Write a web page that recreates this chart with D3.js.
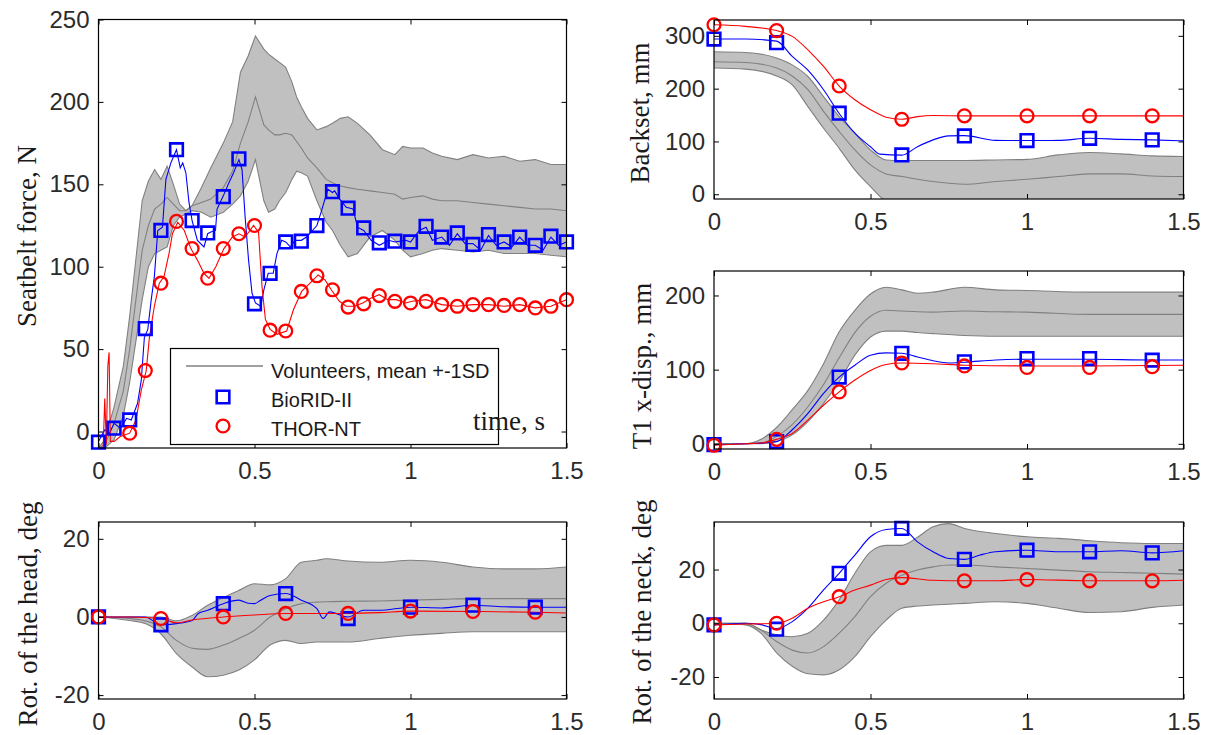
<!DOCTYPE html>
<html>
<head>
<meta charset="utf-8">
<script src="https://cdn.jsdelivr.net/npm/d3@7"></script>
<style>
  body { margin: 0; background: #fff; }
  svg { display: block; }
  .tick text { font-family: "Liberation Sans", Arial, sans-serif; font-size: 24px; fill: #2b2b2b; }
  .tick line { stroke: #000; }
  .ylab, .tlab { font-family: "Liberation Serif", "Times New Roman", serif; font-size: 27px; fill: #1a1a1a; }
  .leg { font-family: "Liberation Sans", Arial, sans-serif; font-size: 20px; fill: #1a1a1a; }
</style>
</head>
<body>
<div id="container"></div>
<script>
// ---------- shared tick labels ----------
const xTicks = [0, 0.5, 1, 1.5];
const xTickLabels = ['0', '0.5', '1', '1.5'];
const markT = [0, 0.2, 0.4, 0.6, 0.8, 1.0, 1.2, 1.4];

// ---------- seatbelt force, N ----------
const beltTicks = [0, 50, 100, 150, 200, 250];
const beltBandT = [0, 0.02, 0.05, 0.08, 0.1, 0.12, 0.14, 0.16, 0.18, 0.2, 0.22, 0.24, 0.26, 0.28, 0.3, 0.33, 0.36, 0.4, 0.43, 0.455, 0.48, 0.503, 0.53, 0.545, 0.565, 0.58, 0.6, 0.62, 0.635, 0.65, 0.67, 0.7, 0.73, 0.75, 0.775, 0.8, 0.83, 0.87, 0.91, 0.95, 0.975, 1.0, 1.04, 1.07, 1.1, 1.15, 1.2, 1.25, 1.3, 1.35, 1.4, 1.45, 1.5];
const beltUpper = [-10, -5, 15, 40, 70, 105, 140, 152, 159, 153, 161, 150, 138, 134, 137, 148, 160, 175, 188, 218, 228, 240, 232, 229, 226, 224, 221, 212, 203, 197, 190, 183, 185, 187, 190, 191, 187, 180, 171, 168, 173, 172, 172, 169, 167, 165, 168, 166, 167, 164, 165, 162, 162];
const beltMean  = [-10, -8, 5, 25, 50, 80, 110, 125, 135, 138, 142, 138, 134, 134, 137, 139, 141, 148, 158, 175, 188, 203, 186, 183, 180, 180, 181, 180, 176, 172, 166, 160, 153, 151, 149, 148, 147, 146, 145, 144, 141, 142, 143, 141, 140, 140, 139, 138, 137, 136, 135, 135, 134];
const beltLower = [-10, -10, -5, 10, 30, 55, 80, 100, 108, 110, 112, 125, 130, 132, 134, 133, 130, 133, 138, 143, 152, 165, 140, 133, 135, 140, 145, 153, 158, 157, 155, 140, 127, 122, 113, 106, 108, 118, 122, 116, 110, 106, 108, 110, 111, 110, 109, 110, 108, 108, 108, 107, 106];

const beltBioT = [0, 0.02, 0.035, 0.05, 0.07, 0.09, 0.105, 0.125, 0.137, 0.147, 0.158, 0.169, 0.179, 0.19, 0.205, 0.216, 0.232, 0.25, 0.262, 0.27, 0.28, 0.29, 0.3, 0.317, 0.338, 0.35, 0.36, 0.375, 0.38, 0.4, 0.418, 0.433, 0.45, 0.46, 0.47, 0.481, 0.492, 0.503, 0.52, 0.53, 0.544, 0.56, 0.572, 0.587, 0.6, 0.615, 0.63, 0.65, 0.667, 0.7, 0.715, 0.735, 0.75, 0.757, 0.773, 0.794, 0.816, 0.83, 0.85, 0.874, 0.9, 0.93, 0.95, 0.985, 1.0, 1.028, 1.05, 1.07, 1.1, 1.125, 1.15, 1.175, 1.2, 1.225, 1.25, 1.275, 1.3, 1.325, 1.35, 1.375, 1.4, 1.425, 1.45, 1.475, 1.5];
const beltBio  = [-6, 1, -1, 5, 2, 8, 7, 17, 31, 57, 62, 80, 94, 122, 124, 153, 163, 171, 160, 163, 157, 139, 128, 116, 112, 120, 121, 122, 135, 143, 151, 157, 165, 159, 130, 104, 84, 78, 76, 86, 96, 96, 108, 116, 115, 112, 116, 116, 118, 125, 134, 147, 145, 146, 141, 136, 135, 124, 122, 116, 113, 116, 115, 116, 115, 122, 124, 116, 118, 113, 120, 114, 114, 110, 119, 113, 115, 112, 118, 113, 113, 110, 118, 113, 115];
const beltThorT = [0, 0.015, 0.02, 0.025, 0.03, 0.034, 0.038, 0.05, 0.07, 0.1, 0.12, 0.137, 0.153, 0.163, 0.179, 0.195, 0.21, 0.226, 0.237, 0.254, 0.275, 0.296, 0.317, 0.338, 0.354, 0.376, 0.402, 0.429, 0.45, 0.47, 0.497, 0.513, 0.524, 0.535, 0.55, 0.572, 0.603, 0.625, 0.651, 0.678, 0.704, 0.726, 0.746, 0.772, 0.794, 0.82, 0.847, 0.874, 0.9, 0.927, 0.954, 0.985, 1.005, 1.05, 1.1, 1.15, 1.2, 1.25, 1.3, 1.35, 1.4, 1.45, 1.5];
const beltThor  = [-11, -10, 20, -8, 40, 48, -6, -6, -3, -1, 7, 25, 37, 57, 76, 90, 94, 108, 120, 127, 122, 111, 104, 96, 93, 100, 111, 118, 120, 118, 125, 121, 88, 68, 62, 59, 61, 74, 85, 90, 95, 92, 86, 79, 76, 76, 78, 81, 83, 80, 80, 78, 79, 80, 77, 76, 77, 77, 76, 77, 75, 76, 80];

const beltBioMarkT = [0, 0.05, 0.1, 0.15, 0.2, 0.25, 0.3, 0.35, 0.4, 0.45, 0.5, 0.55, 0.6, 0.65, 0.7, 0.75, 0.8, 0.85, 0.9, 0.95, 1.0, 1.05, 1.1, 1.15, 1.2, 1.25, 1.3, 1.35, 1.4, 1.45, 1.5];
const beltBioMark  = [-6.5, 2, 7, 62.5, 122, 171, 128, 120.5, 142.5, 165.5, 77.5, 96, 115, 115.5, 125, 145.5, 135.5, 123.5, 114.5, 115.5, 115, 124.5, 118, 120.5, 113.5, 119.5, 115, 118, 113, 118.5, 115];
const beltThorMarkT = [0.1, 0.15, 0.2, 0.25, 0.3, 0.35, 0.4, 0.45, 0.5, 0.55, 0.6, 0.65, 0.7, 0.75, 0.8, 0.85, 0.9, 0.95, 1.0, 1.05, 1.1, 1.15, 1.2, 1.25, 1.3, 1.35, 1.4, 1.45, 1.5];
const beltThorMark  = [-1, 37, 90, 127.5, 111, 93, 111, 120, 125, 61.5, 61, 85, 94.5, 86, 75.5, 77.5, 82.5, 79, 78, 79, 77, 76, 77, 77, 76.5, 77, 75, 76, 80];

// ---------- backset, mm ----------
const backTicks = [0, 100, 200, 300];
const backBandT = [0, 0.1, 0.2, 0.25, 0.3, 0.35, 0.4, 0.45, 0.5, 0.55, 0.6, 0.7, 0.8, 0.9, 1.0, 1.1, 1.2, 1.3, 1.4, 1.5];
const backUpper = [270, 268.5, 258, 245, 223, 185, 147, 115.6, 84, 65, 64, 64, 64, 65, 66, 74.5, 79, 76.4, 72.6, 71.4];
const backMean  = [251, 249.5, 239, 224, 198, 157, 119, 84, 55.6, 38.5, 33.5, 24, 19, 24, 28.4, 33.5, 38.5, 38.5, 34.7, 33.5];
const backLower = [239, 237, 224, 207, 166, 125, 87, 46, 14.5, -12, -15, -15, -15, -15, -15, -15, -15, -15, -15, -15];
const backBioT = [0, 0.1, 0.2, 0.25, 0.3, 0.35, 0.4, 0.45, 0.5, 0.53, 0.6, 0.65, 0.7, 0.75, 0.8, 0.9, 1.0, 1.1, 1.2, 1.3, 1.4, 1.5];
const backBio  = [294, 294, 290, 261, 235, 198, 153, 115.6, 90, 76, 74, 90, 103, 110.5, 111, 102, 101.7, 102, 106, 104, 103, 101];
const backThorT = [0, 0.1, 0.2, 0.25, 0.3, 0.35, 0.4, 0.45, 0.5, 0.55, 0.6, 0.65, 0.7, 0.8, 1.0, 1.2, 1.4, 1.5];
const backThor  = [321, 318, 310, 299, 273.5, 242, 205, 179, 160, 146, 142, 147, 149, 148.5, 148.5, 148.5, 148.5, 148.5];
const backBioMark  = [294, 287, 153.5, 74.5, 110.5, 101.7, 106, 103];
const backThorMark = [321, 310, 205, 142, 148.5, 148.5, 148.5, 148.5];

// ---------- T1 x-disp., mm ----------
const t1Ticks = [0, 100, 200];
const t1BandT = [0, 0.1, 0.15, 0.2, 0.25, 0.3, 0.35, 0.4, 0.45, 0.5, 0.55, 0.6, 0.65, 0.7, 0.8, 0.9, 1.0, 1.2, 1.5];
const t1Upper = [0, 0, 6, 22, 46, 72, 108, 151, 180, 202, 211, 207.6, 203, 204.5, 211, 207.6, 206.7, 204.5, 204.5];
const t1Mean  = [0, 0, 1, 10, 26, 50, 80, 116, 150, 172, 180, 179, 178, 177.6, 179, 178, 177.6, 174.5, 174.5];
const t1Lower = [0, 0, 0, 3, 12, 30, 54.6, 83.7, 119.5, 144, 152, 152, 150, 148.5, 146, 145, 145, 145, 145];
const t1BioT = [0, 0.1, 0.2, 0.25, 0.3, 0.35, 0.4, 0.45, 0.5, 0.55, 0.6, 0.65, 0.7, 0.75, 0.8, 0.9, 1.0, 1.2, 1.4, 1.5];
const t1Bio  = [-1, 0, 3, 19, 41, 68, 90, 106, 119.5, 122.6, 122, 117, 112, 109, 110, 113, 114, 114, 113, 113];
const t1ThorT = [0, 0.1, 0.15, 0.2, 0.25, 0.3, 0.35, 0.4, 0.45, 0.5, 0.55, 0.6, 0.7, 0.8, 1.0, 1.2, 1.5];
const t1Thor  = [-2, 0, 1, 6, 14, 32, 52, 70, 86, 99, 107, 109, 108, 106, 105, 105, 106];
const t1BioMark  = [-1, 3, 90, 122, 110.5, 115, 115, 112.7];
const t1ThorMark = [-2, 6, 70, 109, 105, 103, 103, 104];

// ---------- rotation of the head, deg ----------
const headTicks = [-20, 0, 20];
const headBandT = [0, 0.1, 0.15, 0.2, 0.25, 0.3, 0.35, 0.4, 0.45, 0.5, 0.55, 0.6, 0.65, 0.7, 0.73, 0.8, 0.9, 1.0, 1.1, 1.2, 1.3, 1.4, 1.5];
const headUpper = [0, 0, 0, 0, -1, 0.4, 3, 5, 6.8, 8.5, 8.2, 9.8, 14, 14.5, 14.9, 14.3, 14, 14.5, 14, 12.8, 12.3, 12.3, 12.8];
const headMean  = [0, -0.4, -1, -2.5, -6, -8, -8.3, -7.2, -5.5, -3.4, 0, 2.1, 3.4, 3.8, 3.9, 4, 4.1, 4.3, 4.5, 4.7, 4.7, 4.7, 4.7];
const headLower = [0, -0.9, -1.7, -4.3, -9.4, -12.8, -15.3, -14.9, -13.6, -11, -7.2, -6, -6.8, -6.4, -6.4, -6.4, -5.5, -4.7, -4.2, -3.8, -3.8, -3.8, -3.8];
const headBioT = [0, 0.1, 0.15, 0.2, 0.25, 0.3, 0.32, 0.35, 0.4, 0.45, 0.48, 0.5, 0.52, 0.55, 0.6, 0.65, 0.7, 0.72, 0.74, 0.8, 0.85, 0.9, 1.0, 1.1, 1.2, 1.3, 1.4, 1.5];
const headBio  = [0, 0, 0, -2, -1.7, -0.9, 0.9, 1.7, 3.4, 4.3, 3.5, 3.4, 4.3, 5.5, 6, 4.3, 2.1, -0.4, 1.3, 0, 1.7, 1.7, 2.5, 2.3, 3, 2.6, 2.5, 2.5];
const headThorT = [0, 0.1, 0.2, 0.25, 0.3, 0.4, 0.5, 0.6, 0.7, 0.8, 0.9, 1.0, 1.2, 1.4, 1.5];
const headThor  = [0, 0, -0.4, -1.5, -0.8, 0, 0.5, 0.9, 0.9, 0.9, 1.1, 1.5, 1.4, 1.2, 1.0];
const headBioMark  = [0, -2, 3.4, 6, -0.4, 2.5, 3, 2.5];
const headThorMark = [0, -0.4, 0, 0.9, 0.9, 1.5, 1.4, 1.2];

// ---------- rotation of the neck, deg ----------
const neckTicks = [-20, 0, 20];
const neckBandT = [0, 0.1, 0.15, 0.2, 0.25, 0.3, 0.35, 0.4, 0.45, 0.5, 0.55, 0.6, 0.65, 0.7, 0.75, 0.8, 0.9, 1.0, 1.1, 1.2, 1.3, 1.4, 1.5];
const neckUpper = [0, 0, -2.5, -4.3, -5, -3.7, 1.2, 8.7, 18.6, 26.6, 29, 29, 32, 35.9, 37.1, 35.3, 33.4, 32.2, 31.6, 30.7, 30, 29.7, 29.7];
const neckMean  = [0, 0, -2.5, -6.8, -10, -11.1, -8.7, -3.7, 2.5, 9.9, 14.9, 17.9, 19.8, 21, 21.7, 21.7, 21, 20.4, 19.8, 19.2, 18.9, 18.6, 18.3];
const neckLower = [0, -0.6, -3.7, -11, -16, -18.8, -19.2, -17.3, -12.4, -5, 1.2, 5.6, 6.4, 6.8, 7.1, 7.4, 8, 7.4, 5.6, 4, 4.3, 5.9, 6.8];
const neckBioT = [0, 0.1, 0.15, 0.2, 0.25, 0.3, 0.35, 0.4, 0.45, 0.5, 0.55, 0.6, 0.65, 0.7, 0.75, 0.8, 0.85, 0.9, 1.0, 1.1, 1.2, 1.3, 1.4, 1.5];
const neckBio  = [-0.6, 0, -0.5, -2, 0.6, 5.6, 12.4, 18.6, 25.4, 32.2, 34.9, 35.3, 30.3, 26.6, 24.1, 23.8, 25.4, 26.6, 27.2, 26.6, 26.6, 27, 26.2, 27];
const neckThorT = [0, 0.1, 0.2, 0.25, 0.3, 0.35, 0.4, 0.45, 0.5, 0.55, 0.6, 0.7, 0.8, 0.9, 1.0, 1.2, 1.4, 1.5];
const neckThor  = [-0.6, -0.3, 0, 1.9, 5.6, 8, 9.9, 12.4, 14.2, 16.3, 17, 16, 15.8, 15.8, 16.3, 15.8, 15.8, 16];
const neckBioMark  = [-0.6, -2.2, 18.6, 35.3, 23.8, 27.2, 26.6, 26.2];
const neckThorMark = [-0.6, 0, 9.9, 17, 15.8, 16.3, 15.8, 15.8];

const legendLabels = ['Volunteers, mean +-1SD', 'BioRID-II', 'THOR-NT'];

// ---------- drawing ----------
const w = 1209;
const h = 735;
const blue = '#0000ff';
const red = '#ff0000';
const bandFill = '#c0c0c0';
const bandEdge = '#808080';
const squareSize = 160;
const circleSize = 130;

const svg = d3.select('#container')
              .append('svg')
              .attr('width', w)
              .attr('height', h);

function drawPanel(p) {
    const xScale = d3.scaleLinear().domain([0, 1.5]).range([p.left, p.right]);
    const yScale = d3.scaleLinear().domain(p.yDomain).range([p.bottom, p.top]);
    const curve = p.smooth ? d3.curveMonotoneX : d3.curveLinear;

    svg.append('clipPath').attr('id', 'clip-' + p.id)
        .append('rect')
        .attr('x', p.left).attr('y', p.top)
        .attr('width', p.right - p.left).attr('height', p.bottom - p.top);

    const plot = svg.append('g').attr('clip-path', `url(#clip-${p.id})`);

    // volunteer band: fill plus upper, mean and lower lines
    const band = p.bandT.map((t, i) => ({ t: t, lo: p.lower[i], hi: p.upper[i], m: p.mean[i] }));
    plot.append('path')
        .datum(band)
        .attr('fill', bandFill)
        .attr('d', d3.area().curve(curve)
            .x(d => xScale(d.t)).y0(d => yScale(d.lo)).y1(d => yScale(d.hi)));

    ['hi', 'm', 'lo'].forEach(k => {
        plot.append('path')
            .datum(band)
            .attr('fill', 'none')
            .attr('stroke', bandEdge)
            .attr('stroke-width', 1.1)
            .attr('d', d3.line().curve(curve).x(d => xScale(d.t)).y(d => yScale(d[k])));
    });

    // dummy lines
    const line = d3.line().curve(curve).x(d => xScale(d[0])).y(d => yScale(d[1]));
    plot.append('path').datum(d3.zip(p.bioT, p.bio))
        .attr('fill', 'none').attr('stroke', blue).attr('stroke-width', 1.1).attr('d', line);
    plot.append('path').datum(d3.zip(p.thorT, p.thor))
        .attr('fill', 'none').attr('stroke', red).attr('stroke-width', 1.1).attr('d', line);

    // markers
    svg.append('g').selectAll('path')
        .data(d3.zip(p.bioMarkT, p.bioMark))
        .join('path')
        .attr('transform', d => `translate(${xScale(d[0])},${yScale(d[1])})`)
        .attr('d', d3.symbol(d3.symbolSquare, squareSize)())
        .attr('fill', 'none').attr('stroke', blue).attr('stroke-width', 2.6);

    svg.append('g').selectAll('path')
        .data(d3.zip(p.thorMarkT, p.thorMark))
        .join('path')
        .attr('transform', d => `translate(${xScale(d[0])},${yScale(d[1])})`)
        .attr('d', d3.symbol(d3.symbolCircle, circleSize)())
        .attr('fill', 'none').attr('stroke', red).attr('stroke-width', 2.3);

    // axes, ticks inside on all four sides
    const axes = svg.append('g');
    axes.append('g')
        .attr('transform', `translate(0, ${p.bottom})`)
        .call(d3.axisBottom(xScale).tickValues(xTicks)
            .tickFormat((d, i) => xTickLabels[i]).tickSize(-5).tickPadding(14));
    axes.append('g')
        .attr('transform', `translate(0, ${p.top})`)
        .call(d3.axisTop(xScale).tickValues(xTicks).tickFormat('').tickSize(-5));
    axes.append('g')
        .attr('transform', `translate(${p.left}, 0)`)
        .call(d3.axisLeft(yScale).tickValues(p.yTicks)
            .tickFormat(d => String(d)).tickSize(-5).tickPadding(9));
    axes.append('g')
        .attr('transform', `translate(${p.right}, 0)`)
        .call(d3.axisRight(yScale).tickValues(p.yTicks).tickFormat('').tickSize(-5));
    axes.selectAll('.domain').remove();

    axes.append('rect')
        .attr('x', p.left).attr('y', p.top)
        .attr('width', p.right - p.left).attr('height', p.bottom - p.top)
        .attr('fill', 'none').attr('stroke', '#000').attr('stroke-width', 1.2);

    svg.append('text')
        .attr('class', 'ylab')
        .attr('transform', `translate(${p.labelX}, ${p.labelY}) rotate(-90)`)
        .attr('text-anchor', 'middle')
        .attr('dy', '0.35em')
        .text(p.label);
}

// top left: seatbelt force
drawPanel({
    id: 'belt', left: 98.5, right: 566.5, top: 19.5, bottom: 448,
    yDomain: [-10, 250], yTicks: beltTicks, smooth: false,
    bandT: beltBandT, upper: beltUpper, mean: beltMean, lower: beltLower,
    bioT: beltBioT, bio: beltBio, thorT: beltThorT, thor: beltThor,
    bioMarkT: beltBioMarkT, bioMark: beltBioMark, thorMarkT: beltThorMarkT, thorMark: beltThorMark,
    label: 'Seatbelt force, N', labelX: 27, labelY: 236
});

drawPanel({
    id: 'back', left: 714, right: 1183.5, top: 20, bottom: 199,
    yDomain: [-9, 330], yTicks: backTicks, smooth: true,
    bandT: backBandT, upper: backUpper, mean: backMean, lower: backLower,
    bioT: backBioT, bio: backBio, thorT: backThorT, thor: backThor,
    bioMarkT: markT, bioMark: backBioMark, thorMarkT: markT, thorMark: backThorMark,
    label: 'Backset, mm', labelX: 640, labelY: 113
});

drawPanel({
    id: 't1', left: 714, right: 1183.5, top: 271, bottom: 449,
    yDomain: [-7, 233], yTicks: t1Ticks, smooth: true,
    bandT: t1BandT, upper: t1Upper, mean: t1Mean, lower: t1Lower,
    bioT: t1BioT, bio: t1Bio, thorT: t1ThorT, thor: t1Thor,
    bioMarkT: markT, bioMark: t1BioMark, thorMarkT: markT, thorMark: t1ThorMark,
    label: 'T1 x-disp., mm', labelX: 642, labelY: 366
});

drawPanel({
    id: 'head', left: 98.5, right: 566.5, top: 522, bottom: 699,
    yDomain: [-21, 24.3], yTicks: headTicks, smooth: true,
    bandT: headBandT, upper: headUpper, mean: headMean, lower: headLower,
    bioT: headBioT, bio: headBio, thorT: headThorT, thor: headThor,
    bioMarkT: markT, bioMark: headBioMark, thorMarkT: markT, thorMark: headThorMark,
    label: 'Rot. of the head, deg', labelX: 28, labelY: 614
});

drawPanel({
    id: 'neck', left: 714, right: 1183.5, top: 522, bottom: 699,
    yDomain: [-28.2, 37.7], yTicks: neckTicks, smooth: true,
    bandT: neckBandT, upper: neckUpper, mean: neckMean, lower: neckLower,
    bioT: neckBioT, bio: neckBio, thorT: neckThorT, thor: neckThor,
    bioMarkT: markT, bioMark: neckBioMark, thorMarkT: markT, thorMark: neckThorMark,
    label: 'Rot. of the neck, deg', labelX: 642, labelY: 612
});

// legend in the seatbelt panel
const legend = svg.append('g');
legend.append('rect')
    .attr('x', 170.5).attr('y', 348.5).attr('width', 328).attr('height', 96)
    .attr('fill', '#fff').attr('stroke', '#000').attr('stroke-width', 1.2);
legend.append('line')
    .attr('x1', 186).attr('x2', 263).attr('y1', 366).attr('y2', 366)
    .attr('stroke', bandEdge).attr('stroke-width', 1.5);
legend.append('path')
    .attr('transform', 'translate(223, 397)')
    .attr('d', d3.symbol(d3.symbolSquare, squareSize)())
    .attr('fill', 'none').attr('stroke', blue).attr('stroke-width', 2.6);
legend.append('path')
    .attr('transform', 'translate(223, 426)')
    .attr('d', d3.symbol(d3.symbolCircle, circleSize)())
    .attr('fill', 'none').attr('stroke', red).attr('stroke-width', 2.3);
legend.selectAll('text')
    .data(legendLabels)
    .join('text')
    .attr('class', 'leg')
    .attr('x', 271)
    .attr('y', (d, i) => 378 + i * 29)
    .text(d => d);

svg.append('text')
    .attr('class', 'tlab')
    .attr('x', 473).attr('y', 430)
    .text('time, s');
</script>
</body>
</html>
